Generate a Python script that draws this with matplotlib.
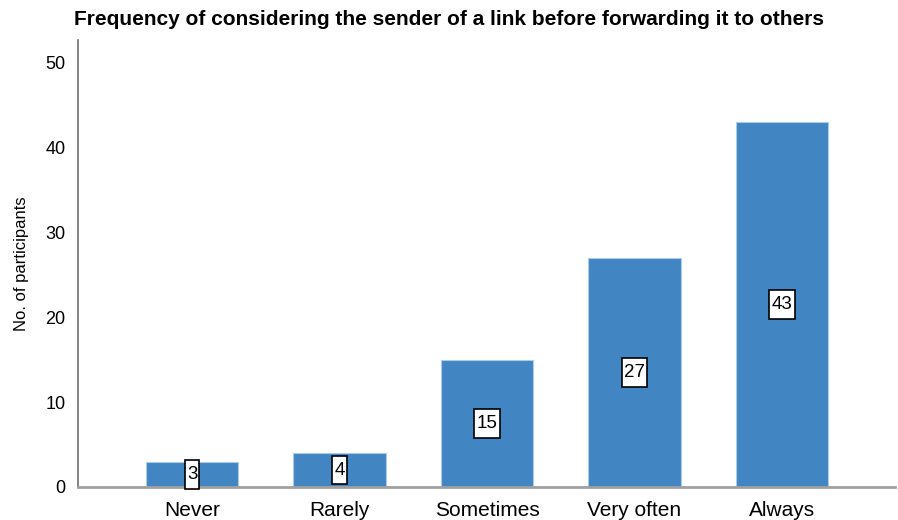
import matplotlib.pyplot as plt

categories = ['Never', 'Rarely', 'Sometimes', 'Very often', 'Always']
counts = [3, 4, 15, 27, 43]

plt.rcParams['font.family'] = ['Liberation Sans', 'DejaVu Sans']

fig = plt.figure(figsize=(8.98, 5.2), dpi=100)
ax = fig.add_axes([0.0869, 0.0635, 0.9098, 0.8595])

x = range(len(categories))
ax.bar(x, counts, width=0.625, color='#4186c2', edgecolor='#a9cbe8', linewidth=0.8, zorder=2)

# value labels boxed at the middle of each bar
for xi, c in zip(x, counts):
    ax.text(xi, c / 2, str(c), ha='center', va='center', fontsize=13.5, zorder=3,
            bbox=dict(boxstyle='square,pad=0.12', mutation_aspect=2.6,
                      facecolor='white', edgecolor='black', linewidth=1.2))

ax.set_xlim(-0.773, 4.766)
ax.set_ylim(0, 52.7)
ax.set_yticks([0, 10, 20, 30, 40, 50])
ax.set_xticks(list(x))
ax.set_xticklabels(categories, fontsize=15)
ax.tick_params(axis='y', labelsize=13, length=0, pad=9)
ax.tick_params(axis='x', length=0, pad=10)

ax.spines['top'].set_visible(False)
ax.spines['right'].set_visible(False)
ax.spines['left'].set_color('#6f6f6f')
ax.spines['left'].set_linewidth(1.2)
ax.spines['bottom'].set_color('#a0a0a0')
ax.spines['bottom'].set_linewidth(2)

ax.set_ylabel('No. of participants', fontsize=12, labelpad=12)

fig.text(0.5, 0.962, 'Frequency of considering the sender of a link before forwarding it to others',
         ha='center', va='center', fontsize=15, fontweight='bold',
         family=['DejaVu Sans Condensed', 'Liberation Sans', 'DejaVu Sans'])

fig.savefig('out.png', dpi=100)
